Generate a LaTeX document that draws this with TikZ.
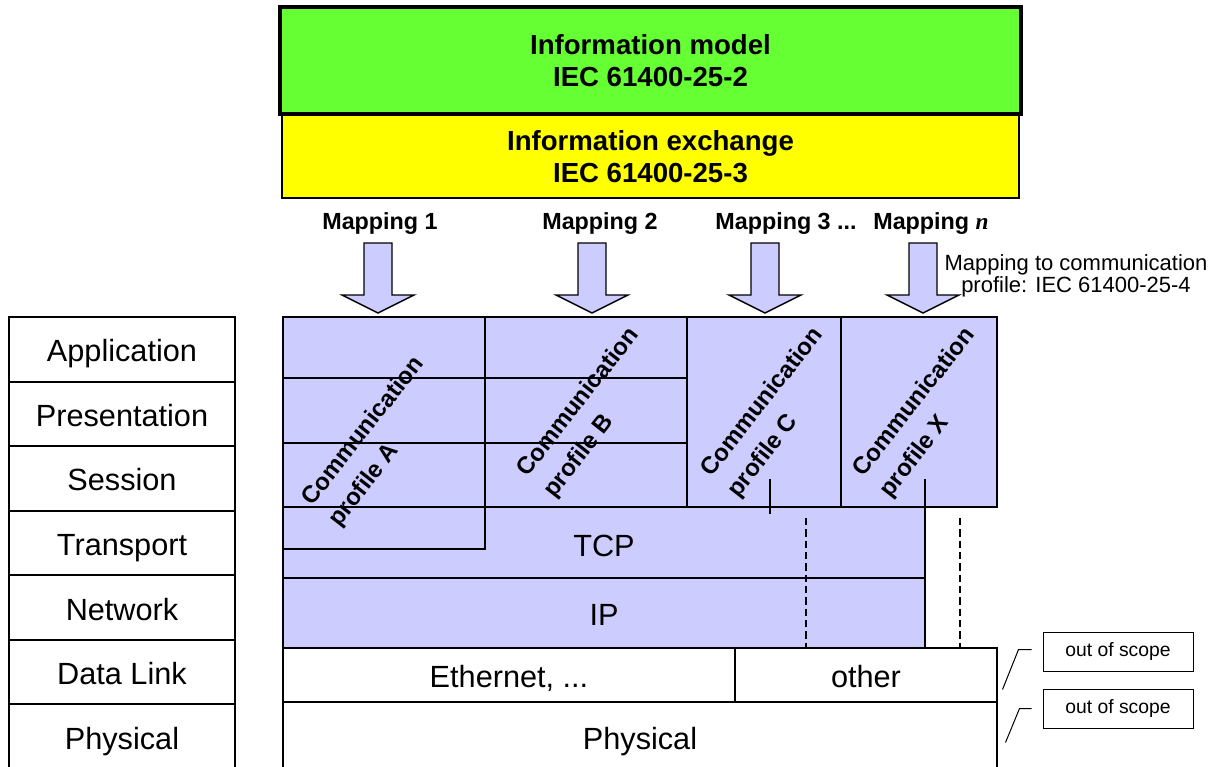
\documentclass[tikz,border=0pt]{standalone}
\usepackage{fontspec}
\setmainfont{Liberation Sans}
\newfontfamily\serifn{Liberation Serif}
\usetikzlibrary{positioning,calc}
\definecolor{lav}{RGB}{204,204,255}
\definecolor{infogreen}{RGB}{102,255,51}
\definecolor{infoyellow}{RGB}{255,255,0}

\begin{document}
\begin{tikzpicture}[x=0.75pt,y=-0.75pt,line width=1.5pt,node distance=48.4pt,
    osi/.style={draw,minimum width=169.5pt,minimum height=48.4pt,inner sep=0pt,
                text height=19pt,text depth=0pt,font=\fontsize{23}{27}\selectfont},
    layer/.style={draw,inner sep=0pt,text height=19pt,text depth=0pt,
                font=\fontsize{23}{27}\selectfont},
    toplayer/.style={draw,align=center,inner sep=0pt,
                font=\bfseries\fontsize{20.7}{24.5}\selectfont},
    proftext/.style={rotate=52,align=left,inner sep=0pt,
                font=\bfseries\fontsize{18}{25.5}\selectfont},
    maplabel/.style={font=\bfseries\fontsize{17.5}{21}\selectfont},
    oos/.style={draw,line width=0.75pt,minimum width=112.5pt,minimum height=29.25pt,
                font=\fontsize{14.5}{17}\selectfont},
    dashline/.style={dash pattern=on 5.5pt off 3pt},
    maparrow/.pic={\draw[fill=lav,line width=1.1pt] (-14,-70) -- (14,-70) -- (14,-18)
                -- (36,-18) -- (0,0) -- (-36,-18) -- (-14,-18) -- cycle;}]

  \useasboundingbox (0,0) rectangle (1217,767);

  % OSI reference model
  \node[osi] (app)                  at (122,349.25) {Application};
  \node[osi] (pres) [below of=app]  {Presentation};
  \node[osi] (sess) [below of=pres] {Session};
  \node[osi] (trans)[below of=sess] {Transport};
  \node[osi] (net)  [below of=trans]{Network};
  \node[osi] (dl)   [below of=net]  {Data Link};
  \node[osi] (phys) [below of=dl]   {Physical};

  % information model and exchange
  \node[toplayer,fill=infoyellow,minimum width=552.75pt,minimum height=62.25pt]
       (exchange) at (650.5,156.5) {Information exchange\\IEC 61400-25-3};
  \node[toplayer,fill=infogreen,line width=3pt,minimum width=555.75pt,minimum height=80.25pt]
       (model) at (650.5,60.5) {Information model\\IEC 61400-25-2};

  % mappings
  \node[maplabel] (m1) at (380,224) {Mapping 1};
  \node[maplabel] (m2) at (600,224) {Mapping 2};
  \node[maplabel] (m3) at (786,224) {Mapping 3 ...};
  \node[maplabel] (mn) at (931,224) {Mapping {\serifn\itshape n}};
  \pic at (378,313) {maparrow};
  \pic at (592,313) {maparrow};
  \pic at (765,313) {maparrow};
  \pic at (923,313) {maparrow};
  \node[align=center,font=\fontsize{16.5}{16.8}\selectfont] (mapnote) at (1076,276)
       {Mapping to communication\\profile: IEC 61400-25-4};

  % communication profiles
  \draw[fill=lav] (283,317) rectangle (485,549);
  \draw[fill=lav] (485,317) rectangle (687,507);
  \draw[fill=lav] (687,317) rectangle (841,507);
  \draw[fill=lav] (841,317) rectangle (997,507);
  \foreach \y in {378,443,507}
    \draw (283,\y) -- (485,\y);
  \foreach \y in {378,443}
    \draw (485,\y) -- (687,\y);

  % TCP / IP
  \draw[fill=lav] (485,507) -- (925,507) -- (925,578) -- (283,578) -- (283,549)
                  -- (485,549) -- cycle;
  \node[layer,fill=lav,minimum width=481.5pt,minimum height=52.5pt] (ip) at (604,613) {IP};
  \node[inner sep=0pt,text height=19pt,text depth=0pt,font=\fontsize{23}{27}\selectfont]
       (tcp) at (604,544) {TCP};
  \draw (770,479) -- (770,514);
  \draw (925,479) -- (925,507);
  \draw[dashline] (806,518) -- (806,648);
  \draw[dashline] (960,518) -- (960,648);

  \node[proftext] (tA) at (377,442) {Communication\\profile A};
  \node[proftext] (tB) at (592,413) {Communication\\profile B};
  \node[proftext] (tC) at (776,413) {Communication\\profile C};
  \node[proftext] (tX) at (928,413) {Communication\\profile X};

  % data link and physical
  \node[layer,minimum width=339pt,minimum height=40.5pt] (eth) at (509,675) {Ethernet, ...};
  \node[layer,minimum width=196.5pt,minimum height=40.5pt] (other) at (866,675) {other};
  \node[layer,minimum width=535.5pt,minimum height=52.5pt] (phy) at (640,737) {Physical};

  % out of scope
  \node[oos] (oos1) at (1118,651.5) {out of scope};
  \node[oos] (oos2) at (1118,708.5) {out of scope};
  \draw[line width=0.75pt] (oos1.west) ++(-11,-2) -- ++(-13,0) -- ++(-16,40);
  \draw[line width=0.75pt] (oos2.west) ++(-11,0) -- ++(-12,0) -- ++(-14,34);

\end{tikzpicture}
\end{document}
